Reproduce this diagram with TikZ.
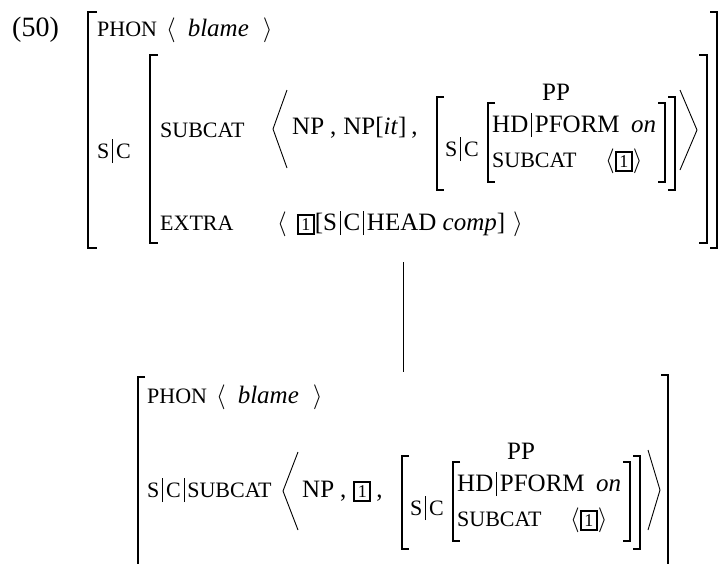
\documentclass[tikz,border=0pt]{standalone}
\usepackage{fontspec}
\setmainfont{Liberation Serif}
\usetikzlibrary{calc}

\newcommand{\fsc}[1]{{\fontsize{22}{22}\selectfont #1}}
\newcommand{\vl}{\kern3pt\rule[-5pt]{0.6pt}{24pt}\kern3pt}
\newcommand{\tagbox}[1]{{\setlength{\fboxrule}{2pt}\setlength{\fboxsep}{2.5pt}\fbox{\fontsize{18}{18}\selectfont #1}}}

\tikzset{
  txt/.style={anchor=base west,inner sep=0pt,font=\fontsize{25}{25}\selectfont},
  brk/.style={line width=1.6pt},
  ang/.style={line width=0.9pt}
}

% the PP value, drawn twice
\newcommand{\ppavm}{%
  \node[txt] (pp) at (542,100) {PP};
  \foreach \x/\a/\b in {437/97/190,488/103/182}{\draw[brk] (\x+7,\a) -| (\x,\b) -- (\x+7,\b);}
  \foreach \x/\a/\b in {665/103/182,675/97/190}{\draw[brk] (\x-7,\a) -| (\x,\b) -- (\x-7,\b);}
  \node[txt] (sc) at (445,156) {\fsc{S\vl C}};
  \node[txt] (hd) at (492,132) {HD\vl PFORM};
  \node[txt] (hdv) at (631,132) {\textit{on}};
  \node[txt] (sub) at (492,167) {\fsc{SUBCAT}};
  \node[txt] (subv) at (605,167) {$\langle$\tagbox{1}$\rangle$};
}

\begin{document}
\begin{tikzpicture}[x=1pt,y=-1pt]
\useasboundingbox (0,0) rectangle (718,563);

% top structure
\node[txt,font=\fontsize{28}{28}\selectfont] (num) at (12,36) {(50)};
\draw[brk] (97,12) -| (88,248) -- (97,248);
\draw[brk] (710,12) -| (717,248) -- (710,248);
\draw[brk] (158,55) -| (150,243) -- (158,243);
\draw[brk] (699,55) -| (707,243) -- (699,243);
\node[txt] (phon) at (97,36) {\fsc{PHON}\hspace{9pt}$\langle$\hspace{12pt}\textit{blame}\hspace{14pt}$\rangle$};
\node[txt] (sca) at (97,158) {\fsc{S\vl C}};
\node[txt] (subcat) at (160,137) {\fsc{SUBCAT}};
\draw[ang] (287,90) -- (273,129) -- (287,168);
\node[txt] (args) at (292,134) {NP\hspace{6pt},\hspace{7pt}NP[\textit{it}]\hspace{5pt},};
\begin{scope}[name prefix=up-]
\ppavm
\end{scope}
\draw[ang] (680,90) -- (697,130) -- (680,170);
\node[txt] (extra) at (160,230) {\fsc{EXTRA}};
\node[txt] (xval) at (277,230) {$\langle$\hspace{10pt}\tagbox{1}[S\vl C\vl HEAD \textit{comp}]\hspace{8pt}$\rangle$};

% link
\coordinate (top) at (403,262);
\coordinate (bot) at (403,372);
\draw (top) -- (bot);

% lower structure
\draw[brk] (145,377) -| (138,570);
\draw[brk] (661,375) -| (668,570);
\node[txt] (lphon) at (147,403) {\fsc{PHON}\hspace{9pt}$\langle$\hspace{12pt}\textit{blame}\hspace{14pt}$\rangle$};
\node[txt] (lsub) at (147,497) {\fsc{S\vl C\vl SUBCAT}};
\draw[ang] (298,452) -- (283,491) -- (298,530);
\node[txt] (largs) at (302,497) {NP\hspace{6pt},\hspace{7pt}\tagbox{1}\hspace{5pt},};
\begin{scope}[name prefix=lo-,shift={(-35,359)}]
\ppavm
\end{scope}
\draw[ang] (648,450) -- (660,490) -- (648,530);
\end{tikzpicture}
\end{document}
